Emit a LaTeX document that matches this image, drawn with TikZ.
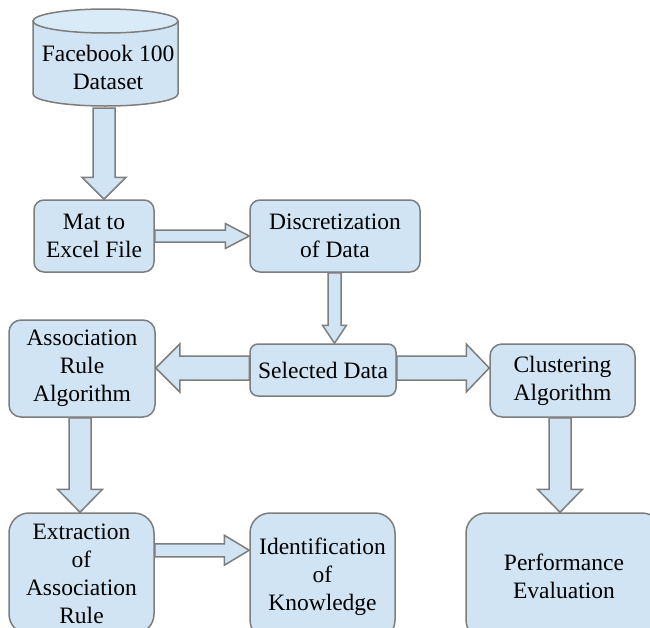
\documentclass[tikz,border=0pt]{standalone}
\usepackage{fontspec}
\setmainfont{Liberation Serif}
\newfontfamily\tnrfont{Liberation Serif}
\usetikzlibrary{calc,backgrounds}
\definecolor{boxfill}{RGB}{208,228,243}
\definecolor{topfill}{RGB}{218,235,248}
\definecolor{edgegray}{RGB}{125,125,125}
\newcommand{\blkdown}[5]{\draw[blk] let \p1=(#1), \p2=(#2) in
  (\x1-#3,\y1) -- (\x1-#3,\y2+#5) -- (\x1-#4,\y2+#5) -- (\x1,\y2) --
  (\x1+#4,\y2+#5) -- (\x1+#3,\y2+#5) -- (\x1+#3,\y1) -- cycle;}
\newcommand{\blkright}[5]{\draw[blk] let \p1=(#1), \p2=(#2) in
  (\x1,\y1+#3) -- (\x2-#5,\y1+#3) -- (\x2-#5,\y1+#4) -- (\x2,\y1) --
  (\x2-#5,\y1-#4) -- (\x2-#5,\y1-#3) -- (\x1,\y1-#3) -- cycle;}
\newcommand{\blkleft}[5]{\draw[blk] let \p1=(#1), \p2=(#2) in
  (\x1,\y1+#3) -- (\x2+#5,\y1+#3) -- (\x2+#5,\y1+#4) -- (\x2,\y1) --
  (\x2+#5,\y1-#4) -- (\x2+#5,\y1-#3) -- (\x1,\y1-#3) -- cycle;}
\begin{document}
\begin{tikzpicture}[x=1pt,y=-1pt,
  font=\tnrfont\fontsize{23.5}{28}\selectfont,
  box/.style={draw=edgegray, fill=boxfill, line width=1.5pt, inner sep=0pt,
    align=center, rounded corners=#1},
  box/.default=10pt,
  blk/.style={draw=edgegray, fill=boxfill, line width=1.5pt, line join=miter}]
\clip (0,0) rectangle (650,627);
% cylinder
\path[draw=edgegray, fill=boxfill, line width=1.5pt]
  (178,21) -- (33,21) -- (33,94)
  arc[start angle=180, end angle=360, x radius=72.5pt, y radius=12pt]
  -- (178,21);
\draw[draw=edgegray, fill=topfill, line width=1.5pt] (105.5,21) ellipse [x radius=72.5pt, y radius=12pt];
\node[inner sep=0pt, align=center] (fb) at (108,67) {Facebook 100\\Dataset};
\coordinate (fbout) at (104,108);
% boxes
\node[box, minimum width=120pt, minimum height=72pt] (mat) at (94,236) {Mat to\\Excel File};
\node[box, minimum width=170pt, minimum height=72pt] (disc) at (335,236) {Discretization\\of Data};
\node[box=8pt, minimum width=146pt, minimum height=52pt] (sel) at (323,370) {Selected Data};
\node[box=12pt, minimum width=146pt, minimum height=97pt] (assoc) at (82,368.5) {Association\\Rule\\Algorithm};
\node[box=12pt, minimum width=145pt, minimum height=73pt] (clus) at (562.5,380.5) {Clustering\\Algorithm};
\node[box=20pt, minimum width=145pt, minimum height=121pt] (extr) at (81.5,573.5) {Extraction\\of\\Association\\Rule};
\node[box=20pt, minimum width=145pt, minimum height=127pt] (ident) at (322.5,576.5) {Identification\\of\\Knowledge};
\node[box=20pt, minimum width=196pt, minimum height=127pt] (perf) at (564,576.5) {Performance\\Evaluation};
% arrows
\begin{scope}[on background layer]
\blkdown{fbout}{mat.north}{11pt}{22pt}{22pt}
\blkright{mat.east}{disc.west}{6pt}{12.5pt}{24pt}
\blkdown{$(disc.south)+(-0.5,0)$}{sel.north}{6.5pt}{12pt}{18pt}
\blkleft{$(sel.west)+(0,-2)$}{assoc.east}{12pt}{24pt}{24pt}
\blkright{$(sel.east)+(0,-2)$}{clus.west}{12pt}{24pt}{23pt}
\blkdown{$(assoc.south)+(-2,0)$}{extr.north}{11pt}{22.5pt}{23pt}
\blkright{$(extr.north east)+(0,38)$}{ident.west}{6.5pt}{15pt}{25pt}
\blkdown{$(clus.south)+(-2.5,0)$}{perf.north}{11pt}{22.5pt}{23pt}
\end{scope}
\end{tikzpicture}
\end{document}
